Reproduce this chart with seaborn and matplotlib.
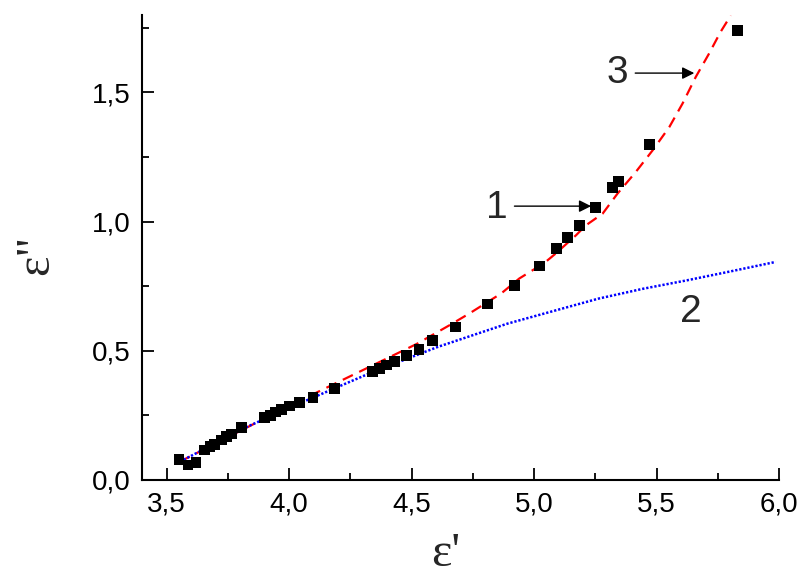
import matplotlib
matplotlib.use("Agg")
import matplotlib.pyplot as plt
import seaborn as sns
import pandas as pd

# Measured points: real (eps') and imaginary (eps'') permittivity
eps_real = [3.551, 3.588, 3.620, 3.656, 3.677, 3.697, 3.724, 3.744, 3.765, 3.805,
            3.901, 3.924, 3.946, 3.969, 4.002, 4.043, 4.098, 4.186, 4.342, 4.370,
            4.397, 4.430, 4.478, 4.530, 4.587, 4.679, 4.810, 4.920, 5.022, 5.091,
            5.136, 5.185, 5.250, 5.319, 5.344, 5.470, 5.829]
eps_imag = [0.080, 0.058, 0.067, 0.116, 0.129, 0.138, 0.155, 0.168, 0.178, 0.202,
            0.242, 0.251, 0.263, 0.273, 0.286, 0.299, 0.320, 0.355, 0.421, 0.432,
            0.445, 0.460, 0.481, 0.505, 0.539, 0.592, 0.681, 0.754, 0.828, 0.897,
            0.940, 0.986, 1.056, 1.133, 1.156, 1.299, 1.740]

# Curve 2 (dotted blue)
c2_x = [3.555, 3.836, 4.037, 4.339, 4.610, 4.891, 5.263, 5.444, 5.625, 5.805, 5.986]
c2_y = [0.071, 0.209, 0.294, 0.417, 0.516, 0.605, 0.702, 0.740, 0.773, 0.808, 0.844]

# Curve 3 (dashed red)
c3_x = [3.555, 3.867, 4.118, 4.329, 4.520, 4.655, 4.737, 4.866, 4.940, 5.042, 5.089,
        5.171, 5.212, 5.280, 5.341, 5.415, 5.484, 5.552, 5.606, 5.660, 5.714, 5.761, 5.803]
c3_y = [0.071, 0.222, 0.341, 0.438, 0.526, 0.599, 0.645, 0.722, 0.780, 0.840, 0.877,
        0.947, 0.986, 1.031, 1.109, 1.192, 1.276, 1.366, 1.457, 1.560, 1.650, 1.734, 1.798]

x_ticks = [3.5, 4.0, 4.5, 5.0, 5.5, 6.0]
x_tick_labels = ["3,5", "4,0", "4,5", "5,0", "5,5", "6,0"]
y_ticks = [0.0, 0.5, 1.0, 1.5]
y_tick_labels = ["0,0", "0,5", "1,0", "1,5"]

sns.set_theme(style="white")
plt.rcParams["font.family"] = ["Liberation Sans", "DejaVu Sans"]

fig = plt.figure(figsize=(8.01, 5.78), dpi=100)
ax = fig.add_axes([0.1773, 0.1696, 0.7953, 0.8045])

pts = pd.DataFrame({"x": eps_real, "y": eps_imag})
d2 = pd.DataFrame({"x": c2_x, "y": c2_y})
d3 = pd.DataFrame({"x": c3_x, "y": c3_y})

sns.lineplot(data=d3, x="x", y="y", ax=ax, sort=False, estimator=None,
             color="#ff0000", lw=1.6, zorder=2)
ax.lines[-1].set_dashes([5, 3.2])
sns.lineplot(data=d2, x="x", y="y", ax=ax, sort=False, estimator=None,
             color="#0000ff", lw=1.8, zorder=3)
ax.lines[-1].set_linestyle((0, (0.9, 0.75)))
sns.scatterplot(data=pts, x="x", y="y", ax=ax, marker="s", s=60,
                color="black", edgecolor="none", zorder=4)

ax.set_xlim(3.4, 6.0)
ax.set_ylim(0.0, 1.8)
ax.set_xticks(x_ticks)
ax.set_xticklabels(x_tick_labels)
ax.set_yticks(y_ticks)
ax.set_yticklabels(y_tick_labels)
ax.set_xticks([3.75, 4.25, 4.75, 5.25, 5.75], minor=True)
ax.set_yticks([0.25, 0.75, 1.25, 1.75], minor=True)
ax.tick_params(which="both", direction="in", width=1.3, colors="black",
               labelsize=20, pad=8, bottom=True, left=True)
ax.tick_params(which="major", length=8.5)
ax.tick_params(which="minor", length=5)

for side in ["top", "right"]:
    ax.spines[side].set_visible(False)
for side in ["left", "bottom"]:
    ax.spines[side].set_color("black")
    ax.spines[side].set_linewidth(1.5)

serif = ["Liberation Serif", "DejaVu Serif"]
ax.set_xlabel("ε'", fontsize=35, family=serif, va="baseline", ha="center")
ax.xaxis.set_label_coords(0.476, -0.186)
ax.set_ylabel('ε"', fontsize=35, family=serif, va="baseline", ha="center")
ax.yaxis.set_label_coords(-0.1476, 0.484)

arrow = dict(arrowstyle="-|>", color="black", lw=1.0, mutation_scale=18,
             shrinkA=0, shrinkB=0)
ax.annotate("", xy=(5.233, 1.060), xytext=(4.920, 1.060), arrowprops=arrow)
ax.annotate("", xy=(5.654, 1.575), xytext=(5.413, 1.575), arrowprops=arrow)
ax.text(4.847, 1.054, "1", fontsize=28, ha="center", va="center")
ax.text(5.340, 1.574, "3", fontsize=28, ha="center", va="center")
ax.text(5.640, 0.652, "2", fontsize=28, ha="center", va="center")

fig.savefig("out.png", dpi=100)
